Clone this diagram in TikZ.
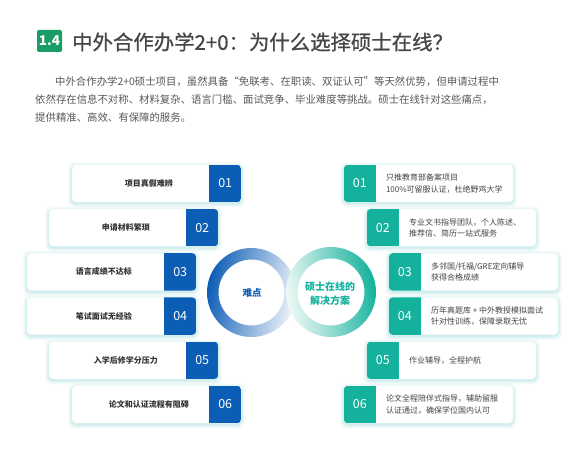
\documentclass[tikz,border=0pt]{standalone}
\usepackage{fontspec}
\setmainfont{Noto Sans CJK SC}
\newfontfamily\titlefont{Noto Sans CJK SC}[FakeBold=0.7]
\usetikzlibrary{calc}
\definecolor{cblue}{HTML}{0C5DB5}
\definecolor{cbluelight}{HTML}{F0F4FA}
\definecolor{cteal}{HTML}{14B29C}
\definecolor{ctealight}{HTML}{F0F9F7}
\definecolor{cgreen}{HTML}{1A9C66}
\definecolor{ctitle}{HTML}{454545}
\definecolor{cpara}{HTML}{585858}
\definecolor{cbox}{HTML}{333333}
\definecolor{crtext}{HTML}{444444}
\definecolor{cshadow}{HTML}{8FD6D6}
\tikzset{
  boxbg/.style={minimum width=169pt, minimum height=37pt, inner sep=0pt, fill=white, rounded corners=4pt},
  numtxt/.style={inner sep=0pt, text=white, font=\fontsize{12.5}{12.5}\selectfont},
  ltxt/.style={inner sep=0pt, text=cbox, font=\bfseries\fontsize{8}{8}\selectfont},
  rtxt/.style={inner sep=0pt, anchor=west, align=left, text=crtext, font=\fontsize{8}{11.5}\selectfont},
  para/.style={inner sep=0pt, anchor=west, text=cpara, font=\fontsize{10.4}{12}\selectfont},
}
\newcommand\boxshadow[2]{%
  \foreach \s/\o in {4/0.07,3/0.09,2/0.12,1/0.16}{%
    \fill[cshadow, opacity=\o, rounded corners=6pt] (#1-\s, #2-\s+1.5) rectangle (#1+169+\s, #2+37+\s+1.5);
  }%
}
\newcommand\leftbox[5]{%
  \boxshadow{#2}{#3}
  \node[boxbg] (#1) at (#2+84.5, #3+18.5) {};
  \begin{scope}
    \clip[rounded corners=4pt] (#1.south west) rectangle (#1.north east);
    \fill[cblue] ($(#1.north east)+(-32,0)$) rectangle (#1.south east);
  \end{scope}
  \node[numtxt] (#1n) at ($(#1.east)+(-16,0)$) {#4};
  \node[ltxt] (#1t) at ($(#1.west)+(77,0)$) {#5};
}
\newcommand\rightbox[5]{%
  \boxshadow{#2}{#3}
  \node[boxbg] (#1) at (#2+84.5, #3+18.5) {};
  \begin{scope}
    \clip[rounded corners=4pt] (#1.south west) rectangle (#1.north east);
    \fill[cteal] (#1.north west) rectangle ($(#1.south west)+(32,0)$);
  \end{scope}
  \node[numtxt] (#1n) at ($(#1.west)+(16,0)$) {#4};
  \node[rtxt] (#1t) at ($(#1.west)+(42,0)$) {#5};
}
\begin{document}
\begin{tikzpicture}[x=1pt, y=-1pt]
\useasboundingbox[fill=white] (0,0) rectangle (579,449);
% title
\node[fill=cgreen, rounded corners=2pt, minimum width=25pt, minimum height=22pt, inner sep=0pt, text=white, font=\bfseries\fontsize{13.5}{13.5}\selectfont] (badge) at (49.5,41) {1.4};
\node[anchor=west, inner sep=0pt, text=ctitle, font=\titlefont\fontsize{20.4}{24}\selectfont] (title) at (72,42) {中外合作办学2+0：为什么选择硕士在线？};
% paragraph
\node[para] (p1) at (55,82) {中外合作办学2+0硕士项目，虽然具备“免联考、在职读、双证认可”等天然优势，但申请过程中};
\node[para] (p2) at (35,100) {依然存在信息不对称、材料复杂、语言门槛、面试竞争、毕业难度等挑战。硕士在线针对这些痛点，};
\node[para] (p3) at (35,117.5) {提供精准、高效、有保障的服务。};
% left boxes
\leftbox{l1}{72}{165}{01}{项目真假难辨}
\leftbox{l2}{49}{209.2}{02}{申请材料繁琐}
\leftbox{l3}{27}{253.4}{03}{语言成绩不达标}
\leftbox{l4}{27}{297.6}{04}{笔试面试无经验}
\leftbox{l5}{49}{341.8}{05}{入学后修学分压力}
\leftbox{l6}{72}{386}{06}{论文和认证流程有阻碍}
% right boxes
\rightbox{r1}{344}{165}{01}{只推教育部备案项目\\100\%可留服认证，杜绝野鸡大学}
\rightbox{r2}{367}{209.2}{02}{专业文书指导团队，个人陈述、\\推荐信、简历一站式服务}
\rightbox{r3}{389}{253.4}{03}{多邻国/托福/GRE定向辅导\\获得合格成绩}
\rightbox{r4}{389}{297.6}{04}{历年真题库 + 中外教授模拟面试\\针对性训练，保障录取无忧}
\rightbox{r5}{367}{341.8}{05}{作业辅导，全程护航}
\rightbox{r6}{344}{386}{06}{论文全程陪伴式指导，辅助留服\\认证通过，确保学位国内认可}
% rings
\path[even odd rule, top color=cblue, bottom color=cbluelight, shading angle=78] (251.5,292.5) circle (44.5pt) (251.5,292.5) circle (33pt);
\path[even odd rule, top color=cteal, bottom color=ctealight, shading angle=-80] (331,292) circle (45pt) (331,292) circle (33.5pt);
\node[inner sep=0pt, text=cblue, font=\bfseries\fontsize{9.5}{9.5}\selectfont] (diff) at (252,293) {难点};
\node[inner sep=0pt, align=center, text=cteal, font=\bfseries\fontsize{10}{14}\selectfont] (sol) at (330,294) {硕士在线的\\解决方案};
\end{tikzpicture}
\end{document}
